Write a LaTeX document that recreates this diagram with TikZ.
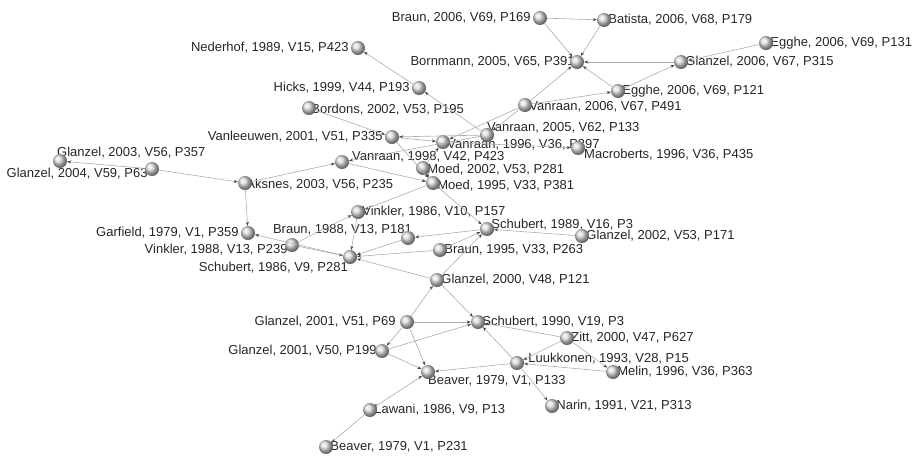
\documentclass[tikz,border=0pt]{standalone}
\usepackage{fontspec}
\setmainfont{Liberation Sans}
\usetikzlibrary{positioning,arrows.meta}
\pgfdeclarelayer{bg}
\pgfsetlayers{bg,main}
\tikzset{>={Stealth[length=4pt,width=3pt,color=black!75]}}
\tikzset{
    ball/.style={circle, ball color=gray!28, minimum size=14pt, inner sep=0pt},
    txt/.style={inner sep=0pt, font=\fontsize{13}{15}\selectfont, text=black!85},
    cite/.style={->, draw=gray!65, line width=.6pt},
}

\begin{document}
\begin{tikzpicture}[x=1pt, y=-1pt]
    \useasboundingbox(0, 0)rectangle(921, 459);
    \node[ball](braun06) at (540, 18){};
    \node[ball](batista) at (604, 20){};
    \node[ball](nederhof) at (358, 48){};
    \node[ball](bornmann) at (577, 62){};
    \node[ball](egghe131) at (766, 43){};
    \node[ball](glanzel06) at (681, 62){};
    \node[ball](hicks) at (419, 88){};
    \node[ball](egghe121) at (618, 91){};
    \node[ball](vanraan06) at (525, 105){};
    \node[ball](bordons) at (309, 108){};
    \node[ball](vanraan05) at (487, 135){};
    \node[ball](vanleeuwen) at (392, 137){};
    \node[ball](vanraan96) at (443, 142){};
    \node[ball](macroberts) at (578, 148){};
    \node[ball](glanzel03) at (60, 161){};
    \node[ball](glanzel04) at (152, 169){};
    \node[ball](aksnes) at (245, 183){};
    \node[ball](vanraan98) at (342, 162){};
    \node[ball](moed02) at (423, 168){};
    \node[ball](moed95) at (433, 183){};
    \node[ball](vinkler86) at (358, 212){};
    \node[ball](garfield) at (248, 233){};
    \node[ball](braun88) at (408, 238){};
    \node[ball](schubert89) at (487, 229){};
    \node[ball](glanzel02) at (582, 236){};
    \node[ball](vinkler88) at (292, 245){};
    \node[ball](braun95) at (440, 250){};
    \node[ball](schubert86) at (350, 257){};
    \node[ball](glanzel00) at (437, 280){};
    \node[ball](glanzelA) at (407, 322){};
    \node[ball](schubert90) at (478, 322){};
    \node[ball](zitt) at (567, 338){};
    \node[ball](glanzelB) at (382, 351){};
    \node[ball](luukkonen) at (517, 363){};
    \node[ball](melin) at (613, 372){};
    \node[ball](beaver133) at (428, 372){};
    \node[ball](lawani) at (370, 410){};
    \node[ball](narin) at (552, 406){};
    \node[ball](beaver231) at (326, 447){};

    \begin{pgfonlayer}{bg}
    \node[txt, left=2pt of braun06]{Braun, 2006, V69, P169};
    \node[txt, right=-3pt of batista]{Batista, 2006, V68, P179};
    \node[txt, left=2pt of nederhof]{Nederhof, 1989, V15, P423};
    \node[txt, left=-5pt of bornmann]{Bornmann, 2005, V65, P391};
    \node[txt, right=-3pt of egghe131]{Egghe, 2006, V69, P131};
    \node[txt, right=-3pt of glanzel06]{Glanzel, 2006, V67, P315};
    \node[txt, left=2pt of hicks]{Hicks, 1999, V44, P193};
    \node[txt, right=-3pt of egghe121]{Egghe, 2006, V69, P121};
    \node[txt, right=-3pt of vanraan06, yshift=-2pt]{Vanraan, 2006, V67, P491};
    \node[txt, right=-5pt of bordons, yshift=-2pt]{Bordons, 2002, V53, P195};
    \node[txt, anchor=south west] at ([yshift=2pt]vanraan05.center){Vanraan, 2005, V62, P133};
    \node[txt, left=2pt of vanleeuwen]{Vanleeuwen, 2001, V51, P335};
    \node[txt, right=-3pt of vanraan96, yshift=-3pt]{Vanraan, 1996, V36, P397};
    \node[txt, anchor=north west] at ([xshift=6pt, yshift=-1pt]macroberts.center){Macroberts, 1996, V36, P435};
    \node[txt, anchor=south west] at ([xshift=-3pt, yshift=2.5pt]glanzel03.center){Glanzel, 2003, V56, P357};
    \node[txt, left=-3pt of glanzel04, yshift=-5pt]{Glanzel, 2004, V59, P63};
    \node[txt, right=-6pt of aksnes, yshift=-2pt]{Aksnes, 2003, V56, P235};
    \node[txt, anchor=south west] at ([xshift=10pt]vanraan98.center){Vanraan, 1998, V42, P423};
    \node[txt, right=-3pt of moed02, yshift=-2pt]{Moed, 2002, V53, P281};
    \node[txt, right=-3pt of moed95, yshift=-3pt]{Moed, 1995, V33, P381};
    \node[txt, right=-3pt of vinkler86]{Vinkler, 1986, V10, P157};
    \node[txt, left=2pt of garfield]{Garfield, 1979, V1, P359};
    \node[txt, anchor=south east] at ([xshift=4pt, yshift=2.5pt]braun88.center){Braun, 1988, V13, P181};
    \node[txt, right=-3pt of schubert89, yshift=4pt]{Schubert, 1989, V16, P3};
    \node[txt, right=-3pt of glanzel02]{Glanzel, 2002, V53, P171};
    \node[txt, left=-3pt of vinkler88, yshift=-5pt]{Vinkler, 1988, V13, P239};
    \node[txt, right=-3pt of braun95]{Braun, 1995, V33, P263};
    \node[txt, anchor=north east] at ([xshift=-2pt, yshift=-4.5pt]schubert86.center){Schubert, 1986, V9, P281};
    \node[txt, right=-3pt of glanzel00]{Glanzel, 2000, V48, P121};
    \node[txt, left=4pt of glanzelA]{Glanzel, 2001, V51, P69};
    \node[txt, right=-3pt of schubert90]{Schubert, 1990, V19, P3};
    \node[txt, right=-3pt of zitt]{Zitt, 2000, V47, P627};
    \node[txt, left=-2pt of glanzelB]{Glanzel, 2001, V50, P199};
    \node[txt, right=4pt of luukkonen, yshift=4pt]{Luukkonen, 1993, V28, P15};
    \node[txt, right=-3pt of melin]{Melin, 1996, V36, P363};
    \node[txt, anchor=north west] at ([yshift=-3.5pt]beaver133.center){Beaver, 1979, V1, P133};
    \node[txt, right=-3pt of lawani]{Lawani, 1986, V9, P13};
    \node[txt, right=-3pt of narin]{Narin, 1991, V21, P313};
    \node[txt, right=-3pt of beaver231]{Beaver, 1979, V1, P231};
    \end{pgfonlayer}

    \draw[cite](braun06)--(batista);
    \draw[cite](braun06)--(bornmann);
    \draw[cite](batista)--(bornmann);
    \draw[cite](glanzel06)--(bornmann);
    \draw[cite](egghe121)--(bornmann);
    \draw[cite](vanraan06)--(bornmann);
    \draw[cite](egghe121)--(glanzel06);
    \draw[cite](egghe131)--(glanzel06);
    \draw[cite](vanraan06)--(egghe121);
    \draw[cite](vanraan06)--(vanraan96);
    \draw[cite](vanraan06)--(vanraan05);
    \draw[cite](vanraan05)--(hicks);
    \draw[cite](hicks)--(nederhof);
    \draw[cite](bordons)--(vanleeuwen);
    \draw[cite](vanraan05)--(vanleeuwen);
    \draw[cite](vanleeuwen)--(vanraan96);
    \draw[cite](vanraan96)--(macroberts);
    \draw[cite](vanleeuwen)--(moed95);
    \draw[cite](vanraan05)--(vanraan98);
    \draw[cite](moed02)--(vanraan96);
    \draw[cite](moed02)--(moed95);
    \draw[cite](vanraan98)--(moed95);
    \draw[cite](aksnes)--(vanraan98);
    \draw[cite](glanzel04)--(aksnes);
    \draw[cite](glanzel04)--(glanzel03);
    \draw[cite](aksnes)--(garfield);
    \draw[cite](moed95)--(vinkler86);
    \draw[cite](moed95)--(schubert89);
    \draw[cite](vinkler88)--(vinkler86);
    \draw[cite](vinkler86)--(schubert86);
    \draw[cite](vinkler88)--(schubert86);
    \draw[cite](schubert86)--(garfield);
    \draw[cite](braun88)--(schubert86);
    \draw[cite](schubert89)--(braun88);
    \draw[cite](braun95)--(schubert86);
    \draw[cite](glanzel00)--(schubert86);
    \draw[cite](braun95)--(schubert89);
    \draw[cite](glanzel00)--(schubert89);
    \draw[cite](glanzel02)--(schubert89);
    \draw[cite](glanzelA)--(glanzel00);
    \draw[cite](glanzel00)--(schubert90);
    \draw[cite](glanzelA)--(schubert90);
    \draw[cite](glanzelA)--(glanzelB);
    \draw[cite](glanzelA)--(beaver133);
    \draw[cite](glanzelB)--(schubert90);
    \draw[cite](glanzelB)--(beaver133);
    \draw[cite](zitt)--(schubert90);
    \draw[cite](zitt)--(melin);
    \draw[cite](zitt)--(luukkonen);
    \draw[cite](melin)--(luukkonen);
    \draw[cite](luukkonen)--(schubert90);
    \draw[cite](luukkonen)--(beaver133);
    \draw[cite](luukkonen)--(narin);
    \draw[cite](lawani)--(beaver133);
    \draw[cite](lawani)--(beaver231);
\end{tikzpicture}
\end{document}
